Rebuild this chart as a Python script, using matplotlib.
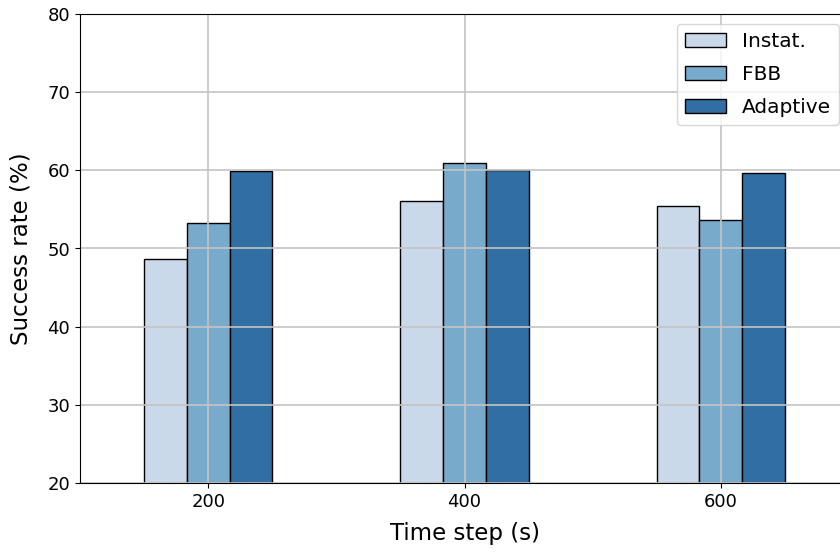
import numpy as np
import matplotlib.pyplot as plt

# datos
pasos = [200, 400, 600]
instat = [48.6, 56.1, 55.4]
fbb = [53.3, 61.0, 53.7]
adaptive = [59.9, 60.1, 59.7]

colores = ["#cad9e9", "#78aacc", "#316ea3"]
ancho = 100 / 3

fig = plt.figure(figsize=(8.4, 5.52), dpi=100)
ax = fig.add_axes([80 / 840, 1 - 483 / 552, 769 / 840, 469 / 552])

x = np.array(pasos)
ax.bar(x - ancho, instat, width=ancho, color=colores[0], edgecolor="black", label="Instat.")
ax.bar(x, fbb, width=ancho, color=colores[1], edgecolor="black", label="FBB")
ax.bar(x + ancho, adaptive, width=ancho, color=colores[2], edgecolor="black", label="Adaptive")

ax.set_xlim(100, 700)
ax.set_ylim(20, 80)
ax.set_xticks(pasos)
ax.set_axisbelow(False)
ax.grid(True, color="#c4c4c4", linewidth=1.2)
for s in ax.spines.values():
    s.set_zorder(3)
ax.tick_params(labelsize=13)
ax.set_xlabel("Time step (s)", fontsize=16.5, labelpad=8)
ax.set_ylabel("Success rate (%)", fontsize=16.5, labelpad=11)
ax.legend(loc="upper right", fontsize=14.5, labelspacing=0.7)

fig.savefig("out.png", dpi=100)
